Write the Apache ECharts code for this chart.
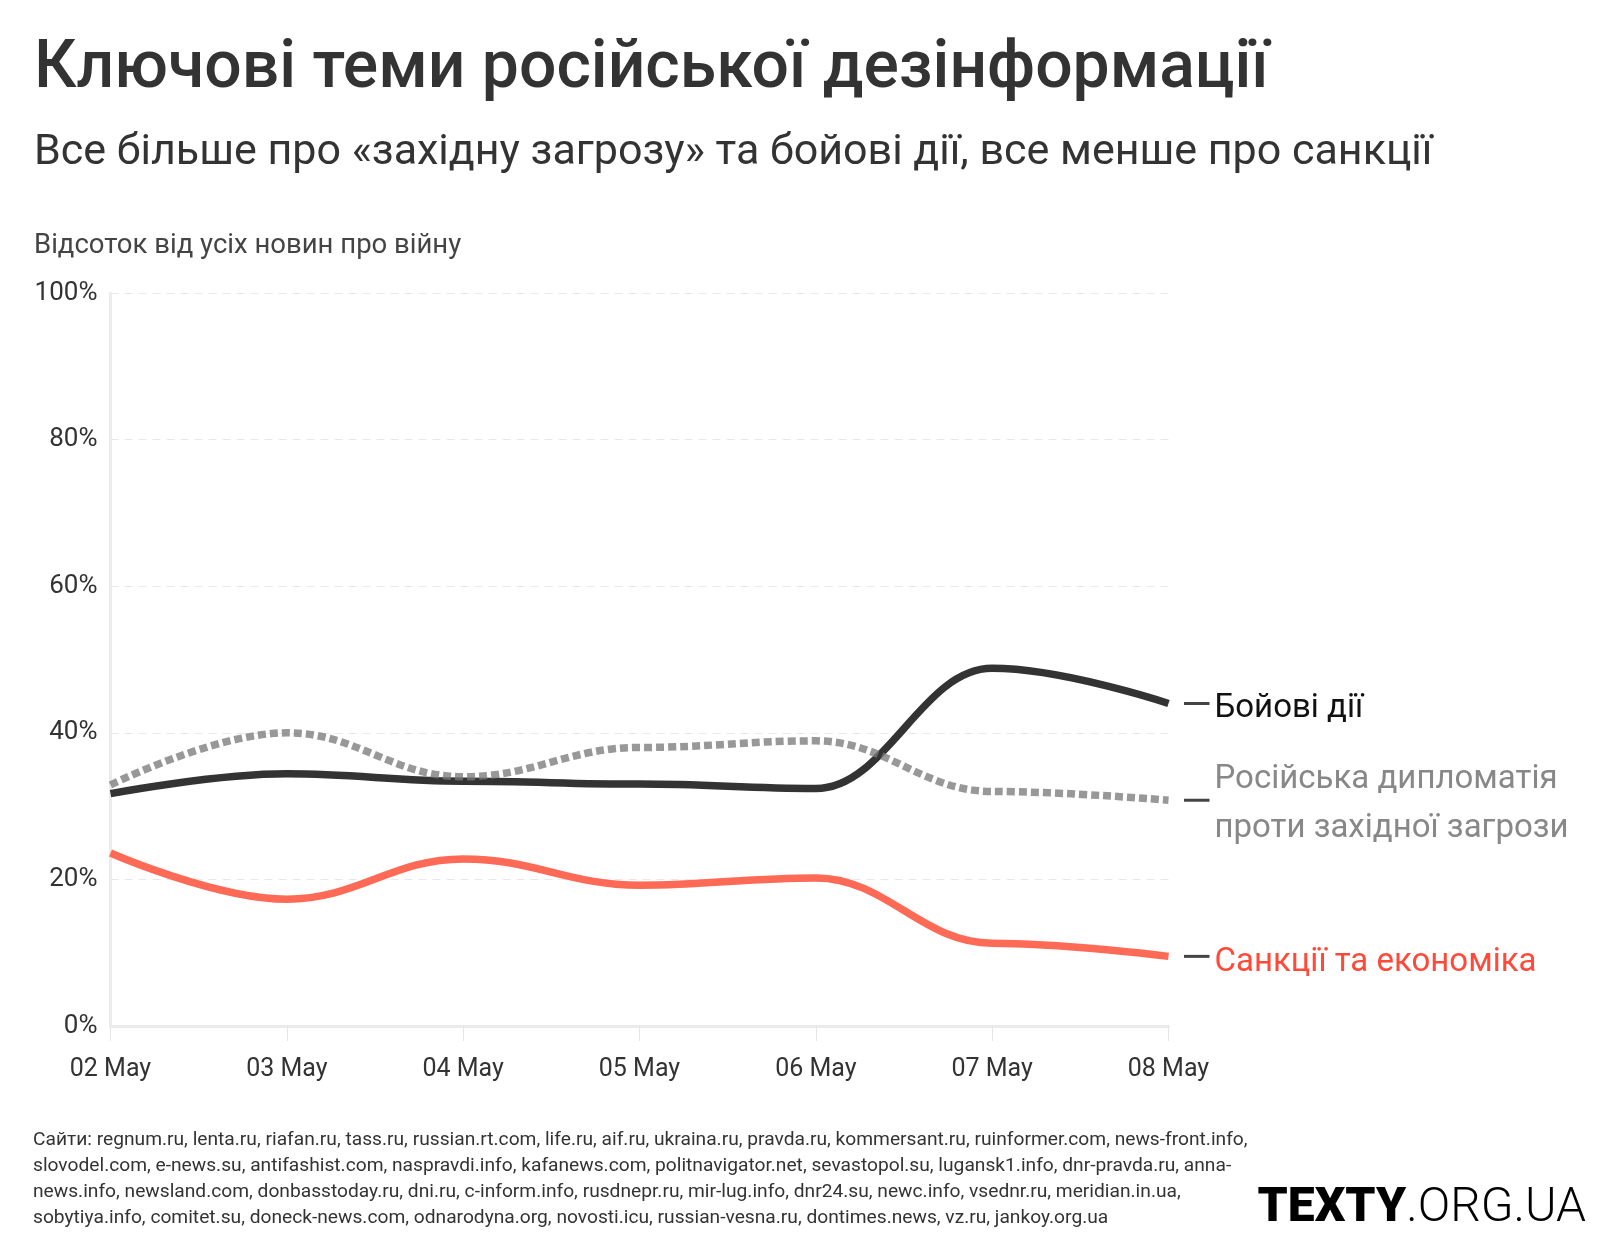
<!DOCTYPE html>
<html>
<head>
<meta charset="utf-8">
<script src="https://cdn.jsdelivr.net/npm/echarts@6/dist/echarts.min.js"></script>
<style>
html,body{margin:0;padding:0;background:#fff;}
#chart{width:1620px;height:1260px;}
</style>
</head>
<body>
<div id="chart"></div>
<script>
const days = ['02 May', '03 May', '04 May', '05 May', '06 May', '07 May', '08 May'];
const combat = [31.7, 34.4, 33.4, 33.0, 32.4, 48.8, 44.0];
const diplomacy = [32.9, 40.0, 34.0, 38.0, 38.9, 32.0, 30.8];
const sanctions = [23.6, 17.3, 22.8, 19.2, 20.2, 11.3, 9.5];
const seriesNames = ['Бойові дії', 'Російська дипломатія\nпроти західної загрози', 'Санкції та економіка'];
const titleText = 'Ключові теми російської дезінформації';
const subtitleText = 'Все більше про «західну загрозу» та бойові дії, все менше про санкції';
const axisCaption = 'Відсоток від усіх новин про війну';
const footerLines = [
  'Сайти: regnum.ru, lenta.ru, riafan.ru, tass.ru, russian.rt.com, life.ru, aif.ru, ukraina.ru, pravda.ru, kommersant.ru, ruinformer.com, news-front.info,',
  'slovodel.com, e-news.su, antifashist.com, naspravdi.info, kafanews.com, politnavigator.net, sevastopol.su, lugansk1.info, dnr-pravda.ru, anna-',
  'news.info, newsland.com, donbasstoday.ru, dni.ru, c-inform.info, rusdnepr.ru, mir-lug.info, dnr24.su, newc.info, vsednr.ru, meridian.in.ua,',
  'sobytiya.info, comitet.su, doneck-news.com, odnarodyna.org, novosti.icu, russian-vesna.ru, dontimes.news, vz.ru, jankoy.org.ua'
];

const FONT = 'Roboto, "Noto Sans", sans-serif';
const chart = echarts.init(document.getElementById('chart'), null, {renderer: 'canvas'});

const option = {
  backgroundColor: '#fff',
  animation: false,
  textStyle: {fontFamily: FONT},
  grid: {left: 110.5, right: 451.5, top: 293, bottom: 234, containLabel: false},
  xAxis: {
    type: 'category',
    data: days,
    boundaryGap: false,
    axisLine: {show: true, lineStyle: {color: '#ebebeb', width: 3}},
    axisTick: {show: true, length: 15, lineStyle: {color: '#e6e6e6', width: 1}},
    axisLabel: {color: '#333', fontSize: 25, margin: 31, fontFamily: FONT},
    splitLine: {show: false}
  },
  yAxis: {
    type: 'value',
    min: 0, max: 100, interval: 20,
    axisLine: {show: true, lineStyle: {color: '#ececec', width: 3}},
    axisTick: {show: false},
    axisLabel: {color: '#333', fontSize: 26, margin: 13, formatter: '{value}%', fontFamily: FONT,
      padding: [8, 0, 0, 0]},
    splitLine: {show: true, lineStyle: {color: '#e8e8e8', width: 1, type: [8, 6]}}
  },
  series: [
    {
      name: seriesNames[2], type: 'line', data: sanctions, smooth: 0.4, smoothMonotone: 'x',
      showSymbol: false, z: 2,
      lineStyle: {color: '#ff6a57', width: 7.5, cap: 'butt'}
    },
    {
      name: seriesNames[0], type: 'line', data: combat, smooth: 0.4, smoothMonotone: 'x',
      showSymbol: false, z: 3,
      lineStyle: {color: '#333333', width: 7.5, cap: 'butt'}
    },
    {
      name: seriesNames[1], type: 'line', data: diplomacy, smooth: 0.4, smoothMonotone: 'x',
      showSymbol: false, z: 4,
      lineStyle: {color: 'rgba(120,120,120,0.76)', width: 7.5, type: [8, 4], cap: 'butt'}
    }
  ],
  graphic: []
};
chart.setOption(option);

const g = [];
g.push({type: 'text', left: 34, top: 37, style: {text: titleText, font: '500 66px ' + FONT, fill: '#333'}});
g.push({type: 'text', left: 34, top: 132, style: {text: subtitleText, font: '400 43px ' + FONT, fill: '#333'}});
g.push({type: 'text', left: 34, top: 232, style: {text: axisCaption, font: '400 27.5px ' + FONT, fill: '#444'}});
footerLines.forEach(function (line, i) {
  g.push({type: 'text', left: 33, top: 1131 + i * 25.9, style: {text: line, font: '400 19.2px ' + FONT, fill: '#333'}});
});
g.push({type: 'text', right: 34, top: 1185, style: {
  text: '{b|TEXTY}{r|.ORG.UA}',
  rich: {
    b: {font: '900 48px ' + FONT, fill: '#000'},
    r: {font: '300 48px ' + FONT, fill: '#000'}
  }
}});

const lastIdx = days.length - 1;
const ends = [
  {val: combat[lastIdx], text: seriesNames[0], color: '#111', dy: 5},
  {val: diplomacy[lastIdx], text: seriesNames[1], color: '#888', dy: 4},
  {val: sanctions[lastIdx], text: seriesNames[2], color: '#ff4a3a', dy: 6}
];
ends.forEach(function (e) {
  const p = chart.convertToPixel({gridIndex: 0}, [days[lastIdx], e.val]);
  g.push({type: 'line', shape: {x1: p[0] + 15.5, y1: p[1], x2: p[0] + 41, y2: p[1]},
    style: {stroke: '#444', lineWidth: 3}});
  g.push({type: 'text', x: p[0] + 46, y: p[1] + e.dy, style: {
    text: e.text, font: '400 33px ' + FONT, fill: e.color,
    verticalAlign: 'middle', align: 'left', lineHeight: 49
  }});
});
chart.setOption({graphic: g});
</script>
</body>
</html>
